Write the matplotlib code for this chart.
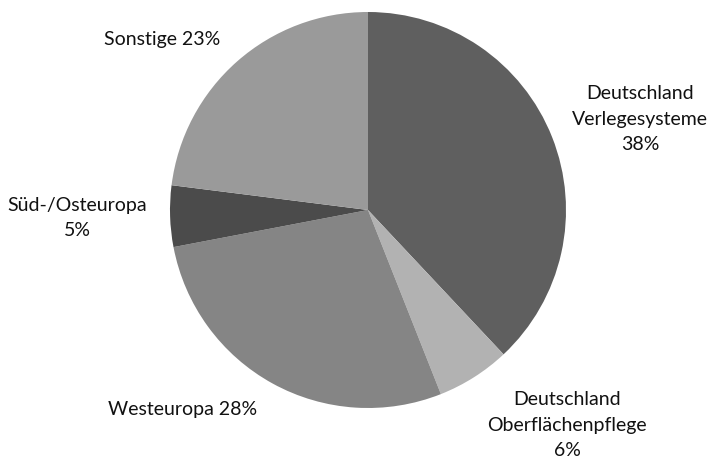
import matplotlib
matplotlib.use("Agg")
import matplotlib.pyplot as plt

labels = ["Deutschland\nVerlegesysteme\n38%", "Deutschland\nOberflächenpflege\n6%",
          "Westeuropa 28%", "Süd-/Osteuropa\n5%", "Sonstige 23%"]
values = [38, 6, 28, 5, 23]
colors = ["#5f5f5f", "#b2b2b2", "#858585", "#4b4b4b", "#9a9a9a"]

plt.rcParams['font.family'] = ['Lato', 'DejaVu Sans']

fig = plt.figure(figsize=(7.12, 4.59), dpi=100)
ax = fig.add_axes([0, 0, 1, 1])
W, H = 712, 459

cx, cy, r = 368, H - 210, 198
wedges, texts = ax.pie(values, labels=labels, colors=colors, startangle=90,
                       counterclock=False, center=(cx, cy), radius=r,
                       wedgeprops=dict(linewidth=0),
                       textprops=dict(fontsize=14, color='#111111'),
                       frame=True)
ax.set_xlim(0, W)
ax.set_ylim(0, H)
ax.set_aspect('equal')
ax.axis('off')

label_pos = [(640, 119), (567, 425), (183, 410), (77, 218), (162, 40)]
for t, (x, y) in zip(texts, label_pos):
    t.set_position((x, H - y))
    t.set_ha('center')
    t.set_va('center')
    t.set_multialignment('center')
    t.set_linespacing(1.6)

fig.savefig("out.png", dpi=100)
